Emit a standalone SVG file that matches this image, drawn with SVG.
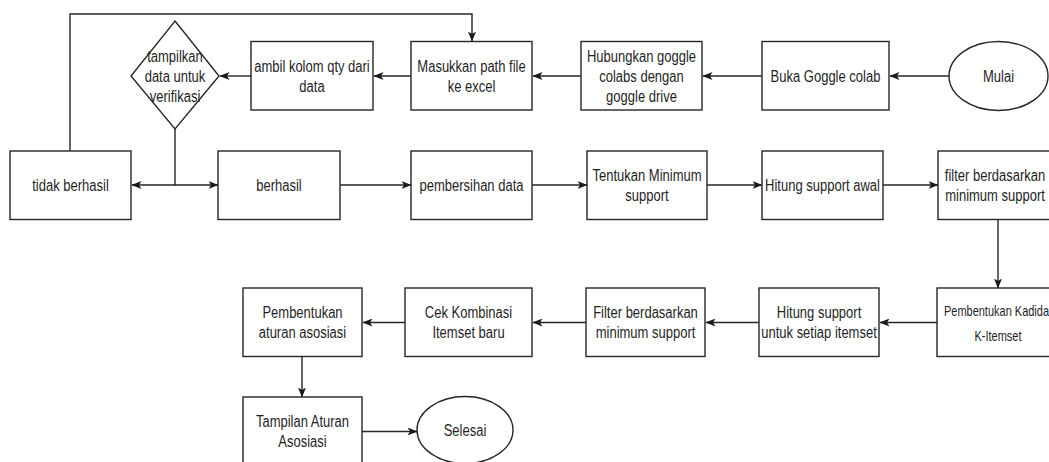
<svg xmlns="http://www.w3.org/2000/svg" width="1049" height="462" viewBox="0 0 1049 462">
  <style>
    .box { fill: #ffffff; stroke: #262626; stroke-width: 1.4; }
    .edge { fill: none; stroke: #262626; stroke-width: 1.4; }
    .t { font-family: "Liberation Sans", Arial, sans-serif; font-size: 13px; fill: #1f1f1f; text-anchor: middle; }
    .ts { font-family: "Liberation Sans", Arial, sans-serif; font-size: 11px; fill: #1f1f1f; text-anchor: middle; }
  </style>
  <defs>
    <marker id="arrow" viewBox="0 0 10 8" refX="9.5" refY="4" markerWidth="10" markerHeight="8" markerUnits="userSpaceOnUse" orient="auto">
      <path d="M0,0 L10,4 L0,8 L2.5,4 z" fill="#1a1a1a"/>
    </marker>
  </defs>
  <rect width="1049" height="462" fill="#ffffff"/>

  <!-- connectors -->
  <g id="connectors">
    <line class="edge" x1="949" y1="76" x2="890" y2="76" marker-end="url(#arrow)"/>
    <line class="edge" x1="762" y1="76" x2="703" y2="76" marker-end="url(#arrow)"/>
    <line class="edge" x1="581" y1="76" x2="533" y2="76" marker-end="url(#arrow)"/>
    <line class="edge" x1="411" y1="76" x2="374" y2="76" marker-end="url(#arrow)"/>
    <line class="edge" x1="251" y1="76" x2="220" y2="76" marker-end="url(#arrow)"/>
    <polyline class="edge" points="175,129 175,185 132,185" marker-end="url(#arrow)"/>
    <polyline class="edge" points="175,185 218,185" marker-end="url(#arrow)"/>
    <polyline class="edge" points="70,151 70,14 472,14 472,41" marker-end="url(#arrow)"/>
    <line class="edge" x1="340" y1="185" x2="411" y2="185" marker-end="url(#arrow)"/>
    <line class="edge" x1="532" y1="185" x2="587" y2="185" marker-end="url(#arrow)"/>
    <line class="edge" x1="707" y1="185" x2="762" y2="185" marker-end="url(#arrow)"/>
    <line class="edge" x1="883" y1="185" x2="938" y2="185" marker-end="url(#arrow)"/>
    <line class="edge" x1="998" y1="220" x2="998" y2="288" marker-end="url(#arrow)"/>
    <line class="edge" x1="937" y1="322.5" x2="880" y2="322.5" marker-end="url(#arrow)"/>
    <line class="edge" x1="759" y1="322.5" x2="706" y2="322.5" marker-end="url(#arrow)"/>
    <line class="edge" x1="586" y1="322.5" x2="533" y2="322.5" marker-end="url(#arrow)"/>
    <line class="edge" x1="405" y1="322.5" x2="363" y2="322.5" marker-end="url(#arrow)"/>
    <line class="edge" x1="302" y1="357" x2="302" y2="397" marker-end="url(#arrow)"/>
    <line class="edge" x1="362" y1="431.5" x2="417" y2="431.5" marker-end="url(#arrow)"/>
  </g>

  <!-- row 1 -->
  <g id="mulai">
    <ellipse class="box" cx="998.5" cy="76" rx="49.5" ry="34.5"/>
    <text class="t" transform="translate(998.5,76) scale(1,1.25)"><tspan x="0" y="4.5">Mulai</tspan></text>
  </g>
  <g id="buka-colab">
    <rect class="box" x="762" y="41.5" width="127" height="68.5"/>
    <text class="t" transform="translate(825.5,76) scale(1,1.25)"><tspan x="0" y="4.5">Buka Goggle colab</tspan></text>
  </g>
  <g id="hubungkan-drive">
    <rect class="box" x="581" y="41.5" width="121" height="68.5"/>
    <text class="t" transform="translate(641.5,76.5) scale(1,1.25)"><tspan x="0" y="-11.5">Hubungkan goggle</tspan><tspan x="0" y="4.5">colabs dengan</tspan><tspan x="0" y="20.5">goggle drive</tspan></text>
  </g>
  <g id="masukkan-path">
    <rect class="box" x="411" y="41.5" width="121" height="68.5"/>
    <text class="t" transform="translate(471.5,76) scale(1,1.25)"><tspan x="0" y="-3.5">Masukkan path file</tspan><tspan x="0" y="12.5">ke excel</tspan></text>
  </g>
  <g id="ambil-kolom">
    <rect class="box" x="251" y="41.5" width="122" height="68.5"/>
    <text class="t" transform="translate(312,76) scale(1,1.25)"><tspan x="0" y="-3.5">ambil kolom qty dari</tspan><tspan x="0" y="12.5">data</tspan></text>
  </g>
  <g id="tampilkan-verifikasi">
    <polygon class="box" points="175,21 219,76 175,129 131,76"/>
    <text class="t" transform="translate(175,76.5) scale(1,1.25)"><tspan x="0" y="-11.5">tampilkan</tspan><tspan x="0" y="4.5">data untuk</tspan><tspan x="0" y="20.5">verifikasi</tspan></text>
  </g>

  <!-- row 2 -->
  <g id="tidak-berhasil">
    <rect class="box" x="10" y="151" width="121" height="68.5"/>
    <text class="t" transform="translate(70.5,185.5) scale(1,1.25)"><tspan x="0" y="4.5">tidak berhasil</tspan></text>
  </g>
  <g id="berhasil">
    <rect class="box" x="218" y="151" width="122" height="68.5"/>
    <text class="t" transform="translate(279,185.5) scale(1,1.25)"><tspan x="0" y="4.5">berhasil</tspan></text>
  </g>
  <g id="pembersihan">
    <rect class="box" x="411" y="151" width="121" height="68.5"/>
    <text class="t" transform="translate(471.5,185.5) scale(1,1.25)"><tspan x="0" y="4.5">pembersihan data</tspan></text>
  </g>
  <g id="tentukan-minsup">
    <rect class="box" x="587" y="151" width="120" height="68.5"/>
    <text class="t" transform="translate(647,185.5) scale(1,1.25)"><tspan x="0" y="-3.5">Tentukan Minimum</tspan><tspan x="0" y="12.5">support</tspan></text>
  </g>
  <g id="hitung-awal">
    <rect class="box" x="762" y="151" width="121" height="68.5"/>
    <text class="t" transform="translate(822.5,185.5) scale(1,1.25)"><tspan x="0" y="4.5">Hitung support awal</tspan></text>
  </g>
  <g id="filter-awal">
    <rect class="box" x="938" y="151" width="121" height="68.5"/>
    <text class="t" transform="translate(995,185.5) scale(1,1.25)"><tspan x="0" y="-3.5">filter berdasarkan</tspan><tspan x="0" y="12.5">minimum support</tspan></text>
  </g>

  <!-- row 3 -->
  <g id="kandidat">
    <rect class="box" x="937" y="288" width="122" height="68.5"/>
    <text class="ts" transform="translate(998,324) scale(1,1.25)"><tspan x="0" y="-6.3">Pembentukan Kadidat</tspan><tspan x="0" y="13.7">K-Itemset</tspan></text>
  </g>
  <g id="hitung-itemset">
    <rect class="box" x="759" y="288" width="120" height="68.5"/>
    <text class="t" transform="translate(819,322.5) scale(1,1.25)"><tspan x="0" y="-3.5">Hitung support</tspan><tspan x="0" y="12.5">untuk setiap itemset</tspan></text>
  </g>
  <g id="filter-itemset">
    <rect class="box" x="586" y="288" width="119" height="68.5"/>
    <text class="t" transform="translate(645.5,322.5) scale(1,1.25)"><tspan x="0" y="-3.5">Filter berdasarkan</tspan><tspan x="0" y="12.5">minimum support</tspan></text>
  </g>
  <g id="cek-kombinasi">
    <rect class="box" x="405" y="288" width="127" height="68.5"/>
    <text class="t" transform="translate(468.5,322.5) scale(1,1.25)"><tspan x="0" y="-3.5">Cek Kombinasi</tspan><tspan x="0" y="12.5">Itemset baru</tspan></text>
  </g>
  <g id="aturan-asosiasi">
    <rect class="box" x="243" y="288" width="119" height="68.5"/>
    <text class="t" transform="translate(302.5,322.5) scale(1,1.25)"><tspan x="0" y="-3.5">Pembentukan</tspan><tspan x="0" y="12.5">aturan asosiasi</tspan></text>
  </g>

  <!-- row 4 -->
  <g id="tampilan-aturan">
    <rect class="box" x="243" y="397" width="119" height="69"/>
    <text class="t" transform="translate(302.5,431.5) scale(1,1.25)"><tspan x="0" y="-3.5">Tampilan Aturan</tspan><tspan x="0" y="12.5">Asosiasi</tspan></text>
  </g>
  <g id="selesai">
    <ellipse class="box" cx="465" cy="430" rx="48" ry="33.5"/>
    <text class="t" transform="translate(465,430.5) scale(1,1.25)"><tspan x="0" y="4.5">Selesai</tspan></text>
  </g>
</svg>
